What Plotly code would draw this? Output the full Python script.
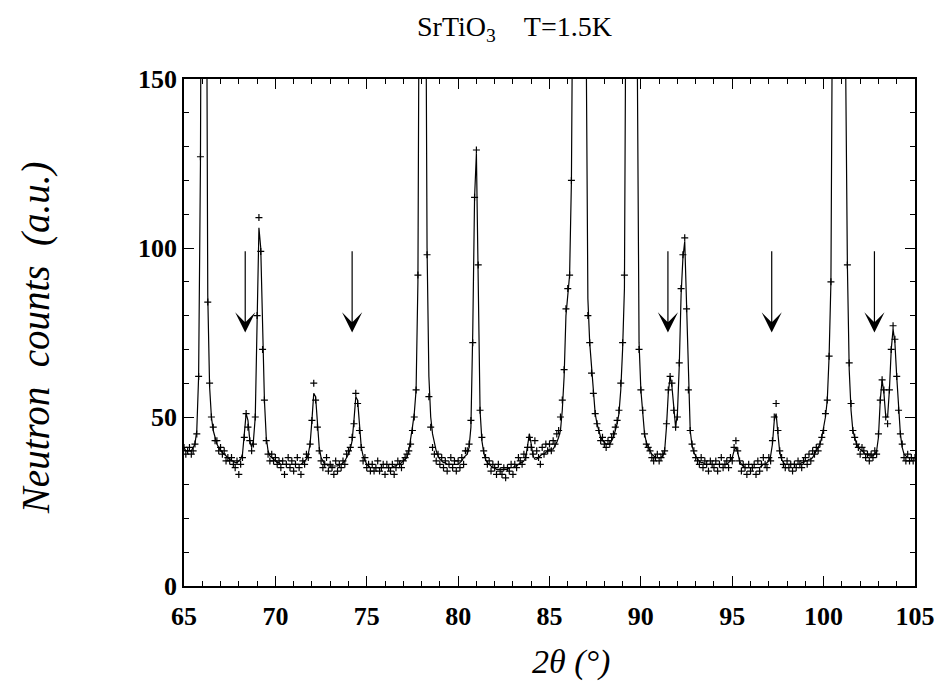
import numpy as np
import plotly.graph_objects as go

# 2-theta sampling grid (degrees), 0.1 deg steps from 65 to 105
two_theta = np.round(np.arange(65.0, 105.0001, 0.1), 1)

# Fitted profile (solid line), one row per degree
fit_counts = [
    41, 40, 40, 40, 40, 41, 42, 46, 62, 125,          # 65
    320, 430, 240, 86, 59, 50, 46, 44, 42, 41,        # 66
    40, 39.5, 39, 38.5, 38, 37.5, 37, 37, 36.5, 36.5, # 67
    37, 37.5, 39, 44, 51, 49, 43, 41, 43, 50,         # 68
    80, 106, 100, 72, 55, 44, 40, 38.5, 38, 37.5,     # 69
    37, 36.5, 36.5, 36, 36, 36, 36, 36, 36, 36,       # 70
    36, 36, 36, 36, 36, 36.5, 37, 37.5, 39, 42,       # 71
    49, 57, 56, 48, 41, 38, 37, 36, 36, 35.5,         # 72
    35.5, 35.5, 35.5, 35.5, 35.5, 36, 36, 36.5, 37, 38,  # 73
    39, 40.5, 43, 49, 56, 55, 47, 41, 38.5, 37,       # 74
    36, 35.5, 35, 35, 35, 35, 35, 35, 35, 35,         # 75
    35, 35, 35, 35, 35, 35.5, 35.5, 36, 36, 36.5,     # 76
    37, 37.5, 38, 40, 43, 47, 51, 58, 90, 180,        # 77
    450, 500, 220, 100, 62, 50, 45, 42, 40, 38.5,     # 78
    37.5, 37, 36.5, 36.5, 36, 36, 36, 36, 36, 36,     # 79
    36, 36.5, 37, 38, 38.5, 39, 41, 47, 75, 115,      # 80
    128, 95, 52, 43, 39.5, 37.5, 36.5, 36, 35.5, 35,  # 81
    35, 34.5, 34.5, 34.5, 34.5, 34.5, 34.5, 34.5, 35, 35,  # 82
    35, 35.5, 35.5, 36, 36.5, 36.5, 37, 38, 41, 45,   # 83
    42, 38.5, 37.5, 37.5, 38, 38.5, 39, 39, 39.5, 40, # 84
    40.5, 40.5, 40.5, 41.5, 42.5, 44, 46, 52, 62, 80, # 85
    87, 92, 120, 200, 300, 400, 450, 420, 350, 250,   # 86
    180, 85, 72, 65, 58, 51, 48, 46, 44, 43,          # 87
    42.5, 42, 42, 42, 43, 44, 46, 48, 51, 58,         # 88
    70, 88, 200, 350, 450, 480, 420, 300, 160, 72,    # 89
    58, 51, 45, 42.5, 41, 40, 39, 38.5, 38, 38,       # 90
    38, 38, 38.5, 40, 47, 57, 62, 59, 53, 47,         # 91
    51, 65, 86, 97, 102, 82, 58, 46, 41.5, 39.5,      # 92
    38.5, 37.5, 37, 36.5, 36.5, 36, 36, 36, 36, 36,   # 93
    36, 36, 36, 36, 36, 36, 36, 36, 36.5, 37,         # 94
    38, 40, 41, 39.5, 37, 36, 35.5, 35, 35, 35,       # 95
    35, 35, 35, 35, 35, 35, 35.5, 36, 36, 36.5,       # 96
    37, 38.5, 42, 49, 51, 45, 39.5, 37.5, 36.5, 36,   # 97
    36, 36, 36, 36, 36, 36, 36, 36, 36.5, 36.5,       # 98
    37, 37, 37.5, 37.5, 38, 39, 40, 41, 42, 44,       # 99
    47, 50, 55, 68, 90, 180, 350, 480, 500, 450,      # 100
    350, 220, 160, 95, 64, 52, 46, 43.5, 42, 41,      # 101
    40.5, 40, 39.5, 39, 39, 38.5, 38.5, 38.5, 39, 40, # 102
    44, 55, 61, 57, 50, 50, 58, 70, 76, 72,           # 103
    62, 52, 45, 41, 39, 38.5, 38, 38, 38, 38,         # 104
    38,                                                # 105
]

# Observed counts (+ markers), one row per degree
obs_counts = [
    41, 39, 40, 41, 39, 40, 42, 45, 62, 127,          # 65
    320, 430, 240, 84, 60, 50, 47, 43, 43, 40,        # 66
    41, 39, 40, 37, 38, 37, 38, 36, 35, 37,           # 67
    33, 36, 38, 44, 51, 47, 43, 40, 42, 50,           # 68
    80, 109, 99, 70, 55, 43, 39, 37, 39, 37,          # 69
    38, 36, 37, 35, 37, 33, 36, 38, 35, 37,           # 70
    34, 36, 38, 35, 33, 37, 36, 39, 38, 42,           # 71
    49, 60, 55, 47, 40, 37, 35, 36, 38, 34,           # 72
    36, 35, 33, 37, 34, 36, 35, 37, 36, 39,           # 73
    40, 41, 44, 48, 57, 54, 46, 41, 37, 38,           # 74
    35, 36, 34, 36, 34, 35, 37, 34, 35, 36,           # 75
    33, 36, 35, 34, 36, 33, 35, 37, 36, 35,           # 76
    37, 38, 39, 40, 42, 46, 50, 58, 92, 170,          # 77
    420, 480, 230, 98, 56, 47, 41, 39, 37, 39,        # 78
    36, 38, 35, 37, 34, 36, 38, 35, 37, 34,           # 79
    37, 35, 38, 36, 40, 40, 42, 49, 72, 115,          # 80
    129, 95, 52, 44, 40, 38, 36, 37, 34, 36,          # 81
    35, 33, 36, 34, 33, 35, 32, 35, 34, 36,           # 82
    33, 36, 35, 38, 37, 36, 39, 38, 41, 44,           # 83
    41, 39, 43, 40, 38, 36, 41, 39, 42, 40,           # 84
    42, 40, 43, 42, 45, 46, 50, 55, 64, 82,           # 85
    88, 92, 120, 200, 300, 400, 450, 420, 350, 250,   # 86
    180, 80, 72, 63, 57, 51, 48, 46, 43, 44,          # 87
    42, 41, 43, 42, 44, 45, 47, 49, 52, 60,           # 88
    72, 92, 200, 350, 450, 480, 420, 300, 160, 70,    # 89
    58, 52, 45, 42, 41, 40, 38, 37, 38, 39,           # 90
    37, 38, 39, 40, 48, 58, 62, 60, 52, 47,           # 91
    50, 66, 88, 98, 103, 82, 58, 46, 42, 40,          # 92
    38, 37, 36, 38, 35, 37, 36, 34, 37, 36,           # 93
    35, 37, 34, 36, 38, 35, 36, 37, 35, 38,           # 94
    37, 41, 43, 40, 37, 34, 36, 35, 33, 36,           # 95
    34, 35, 36, 33, 37, 34, 36, 38, 36, 35,           # 96
    38, 37, 43, 50, 54, 46, 40, 38, 36, 35,           # 97
    37, 35, 36, 34, 36, 35, 37, 36, 35, 37,           # 98
    38, 36, 39, 37, 40, 39, 41, 40, 42, 44,           # 99
    46, 51, 55, 68, 90, 180, 350, 480, 500, 450,      # 100
    350, 220, 160, 95, 66, 54, 46, 44, 42, 41,        # 101
    39, 41, 40, 38, 39, 37, 39, 38, 40, 39,           # 102
    45, 55, 61, 58, 50, 48, 58, 70, 77, 73,           # 103
    62, 52, 45, 42, 38, 37, 39, 37, 38, 37,           # 104
    38,                                                # 105
]

# Arrows marking superstructure peaks
arrow_x = [68.35, 74.2, 91.48, 97.16, 102.78]
arrow_top = 99.5
arrow_tip = 75.0

x_ticks = [65, 70, 75, 80, 85, 90, 95, 100, 105]
y_ticks = [0, 50, 100, 150]

SERIF = "Liberation Serif"

fig = go.Figure()
fig.add_trace(go.Scatter(
    x=two_theta, y=fit_counts, mode="lines",
    line=dict(color="black", width=1.2), showlegend=False,
))
fig.add_trace(go.Scatter(
    x=two_theta, y=obs_counts, mode="markers",
    marker=dict(symbol="cross-thin", size=5, color="black",
                line=dict(color="black", width=1.2)),
    showlegend=False,
))

for xa in arrow_x:
    fig.add_annotation(
        x=xa, y=arrow_tip, ax=xa, ay=arrow_top,
        xref="x", yref="y", axref="x", ayref="y",
        showarrow=True, arrowhead=3, arrowsize=2.8, arrowwidth=1.2,
        arrowcolor="black", text="",
    )

fig.add_annotation(
    text="SrTiO<sub>3</sub>\u00a0\u00a0\u00a0\u00a0T=1.5K",
    xref="paper", yref="paper", x=0.452, y=1.1,
    xanchor="center", yanchor="middle",
    showarrow=False, font=dict(family=SERIF, size=28, color="black"),
)
fig.add_annotation(
    text="Neutron\u00a0\u00a0counts\u00a0\u00a0(a.u.)",
    xref="paper", yref="paper", x=-0.203, y=0.49, textangle=-90,
    xanchor="center", yanchor="middle",
    showarrow=False,
    font=dict(family=SERIF, size=39, color="black", style="italic"),
)
fig.add_annotation(
    text="2\u03b8\u00a0(\u00b0)",
    xref="paper", yref="paper", x=0.53, y=-0.15,
    xanchor="center", yanchor="middle",
    showarrow=False,
    font=dict(family=SERIF, size=34, color="black", style="italic"),
)

axis_common = dict(
    showline=True, linecolor="black", linewidth=1.5, mirror="ticks",
    ticks="inside", ticklen=10, tickwidth=1.3, tickcolor="black",
    showgrid=False, zeroline=False, automargin=False,
    tickfont=dict(family=SERIF, size=26, color="black", weight="bold"),
)

fig.update_xaxes(
    range=[65, 105], tickvals=x_ticks, ticktext=[str(v) for v in x_ticks],
    minor=dict(dtick=1, ticks="inside", ticklen=5, tickwidth=1, tickcolor="black"),
    ticklabelstandoff=6,
    **axis_common,
)
fig.update_yaxes(
    range=[0, 150], tickvals=y_ticks, ticktext=[str(v) for v in y_ticks],
    minor=dict(dtick=10, ticks="inside", ticklen=5, tickwidth=1, tickcolor="black"),
    **axis_common,
)

# page body adds an ~8px offset, so margins are shifted to compensate
fig.update_layout(
    width=943, height=686,
    margin=dict(l=176, r=36, t=71, b=108),
    paper_bgcolor="white", plot_bgcolor="white",
)

fig.write_html("out.html")
